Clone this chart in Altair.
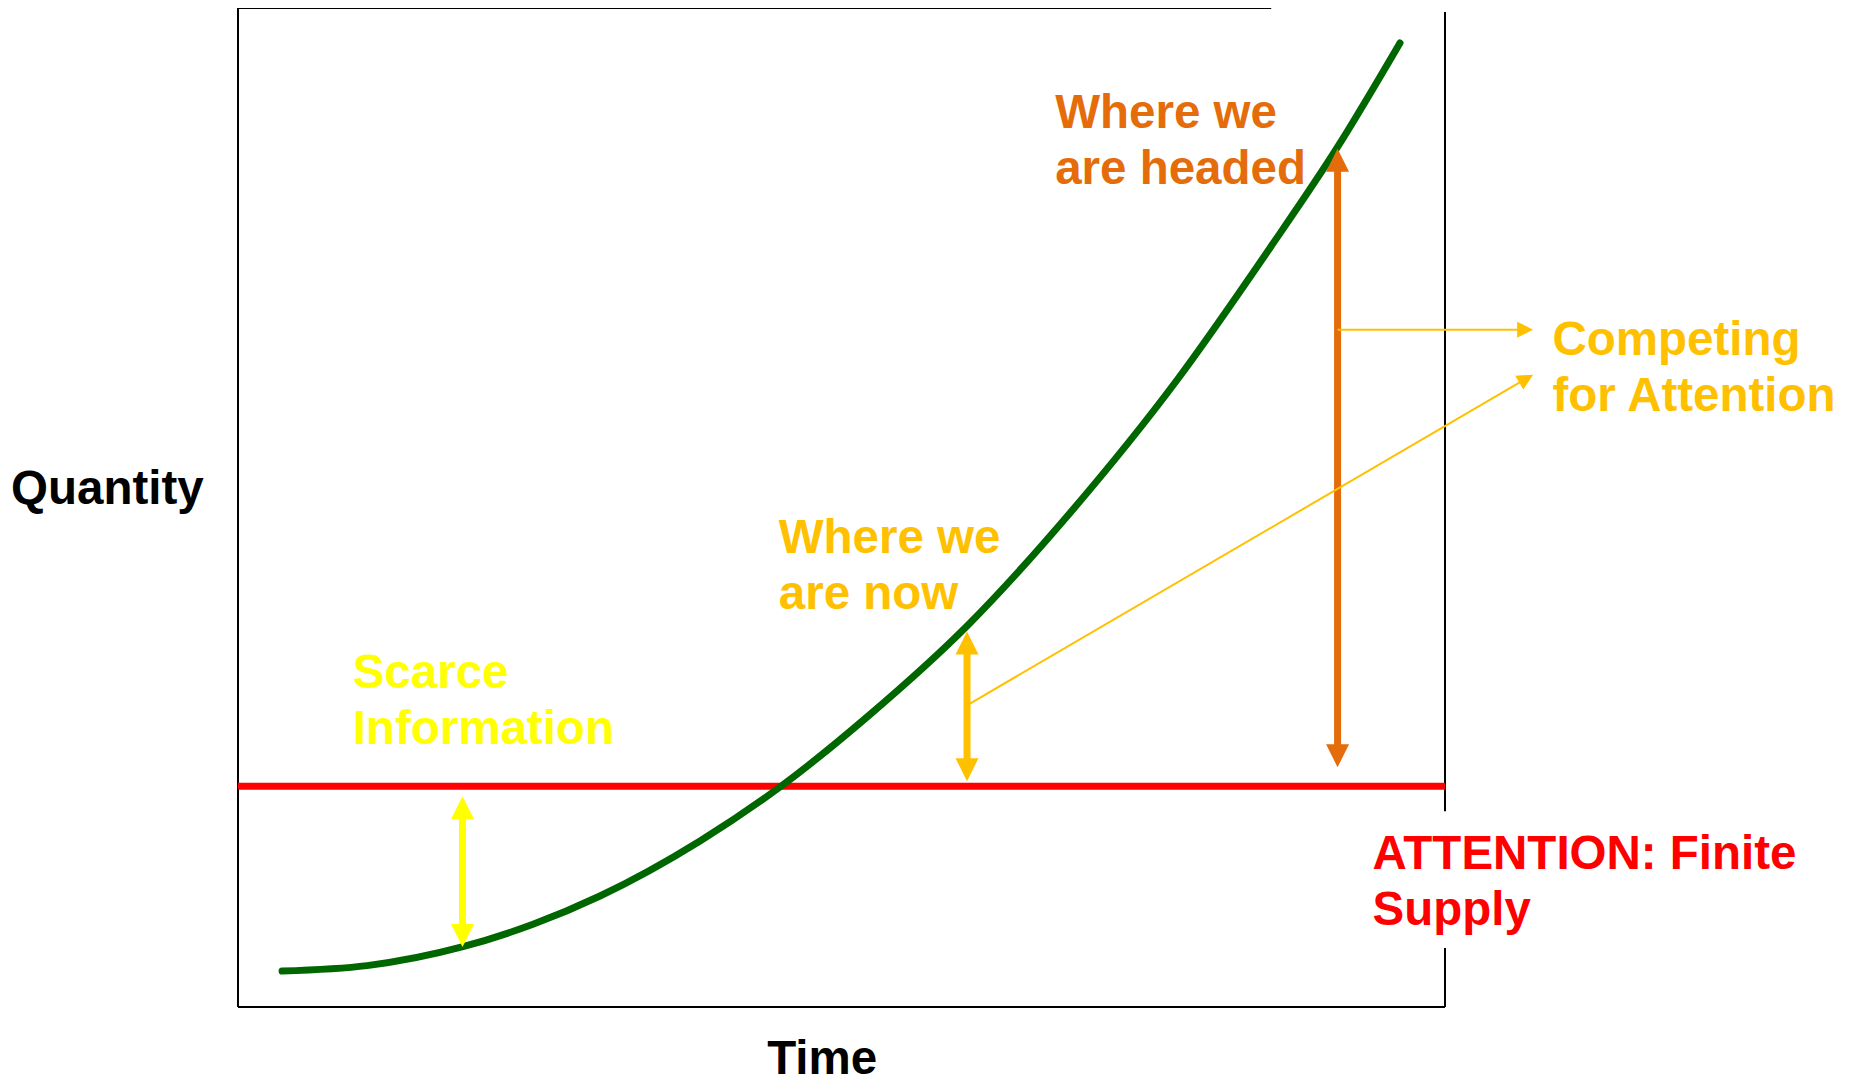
import math
import altair as alt
import pandas as pd

# ---------------- data (chart units: Time 0-100 across the frame, Quantity 0-100 up the frame)
curve_time = [3.65, 10.69, 18.56, 24.44, 29.99, 38.28, 45.07, 52.36, 60.40, 68.93, 77.80, 85.50, 91.05, 96.27]
curve_quantity = [3.60, 4.14, 6.01, 8.28, 11.11, 16.62, 22.17, 29.28, 38.14, 49.45, 62.76, 75.98, 85.99, 96.50]

attention_supply = 22.1

gap_names = ["Scarce Information", "Where we are now", "Where we are headed"]
gap_time = [18.6, 60.4, 91.1]
gap_low = [6.0, 22.6, 24.0]
gap_high = [21.1, 37.6, 85.9]

pointer_from_time = [91.1, 60.4]
pointer_from_qty = [67.8, 30.2]
pointer_to_time = [107.3, 107.3]
pointer_to_qty = [67.8, 63.3]

label_texts = ["Where we\nare headed", "Scarce\nInformation", "Where we\nare now",
               "Competing\nfor Attention", "ATTENTION: Finite\nSupply"]
label_time = [67.7, 9.5, 44.8, 108.9, 94.0]
label_qty = [88.0, 31.9, 45.4, 65.3, 13.8]

axis_titles = ["Quantity", "Time"]
axis_title_time = [-18.8, 48.4]
axis_title_qty = [50.4, -6.7]

# frame of the plot (top edge and right edge are partly hidden by text boxes)
frame_x = [0, 0, 0, 100, 100]
frame_x2 = [85.6, 0, 100, 100, 100]
frame_y = [100, 0, 0, 19.6, 0]
frame_y2 = [100, 100, 0, 99.6, 5.9]

# ---------------- styles
W, H = 1207, 999
GREEN = "#006600"
RED = "#FF0000"
YELLOW = "#FFFF00"
GOLD = "#FFC000"
ORANGE = "#E46C0A"
gap_colors = [YELLOW, GOLD, ORANGE]
label_colors = [ORANGE, YELLOW, GOLD, GOLD, RED]
FONT = "Liberation Sans"
FSIZE = 47.5

px_x = W / 100.0
px_y = H / 100.0

XS = alt.Scale(domain=[0, 100], nice=False, zero=False)
YS = alt.Scale(domain=[0, 100], nice=False, zero=False)


def X(f):
    return alt.X(f, type="quantitative", scale=XS, axis=None)


def Y(f):
    return alt.Y(f, type="quantitative", scale=YS, axis=None)


# frame
frame_df = pd.DataFrame({"x": frame_x, "x2": frame_x2, "y": frame_y, "y2": frame_y2})
frame = alt.Chart(frame_df).mark_rule(color="#000000", strokeWidth=2).encode(
    x=X("x"), x2="x2", y=Y("y"), y2="y2")

# attention supply line
red_df = pd.DataFrame({"x": [0], "x2": [100], "y": [attention_supply]})
red = alt.Chart(red_df).mark_rule(color=RED, strokeWidth=7).encode(
    x=X("x"), x2="x2", y=Y("y"))

# information curve
curve_df = pd.DataFrame({"time": curve_time, "quantity": curve_quantity})
curve = alt.Chart(curve_df).mark_line(color=GREEN, strokeWidth=7, interpolate="monotone",
                                      strokeCap="round").encode(
    x=X("time"), y=Y("quantity"), order="time:Q")

# double arrows
HEAD = 23.0
head_d = (HEAD - 3) / px_y
gap_df = pd.DataFrame({"name": gap_names, "x": gap_time,
                       "lo": [v + head_d for v in gap_low],
                       "hi": [v - head_d for v in gap_high],
                       "tip_lo": gap_low, "tip_hi": gap_high, "color": gap_colors})
shafts = alt.Chart(gap_df).mark_rule(strokeWidth=7).encode(
    x=X("x"), y=Y("lo"), y2="hi", color=alt.Color("color:N", scale=None))
heads_up = alt.Chart(gap_df).mark_point(shape="M0,0L1,2L-1,2Z", filled=True, opacity=1,
                                        size=HEAD * HEAD, strokeWidth=0).encode(
    x=X("x"), y=Y("tip_hi"), color=alt.Color("color:N", scale=None))
heads_down = alt.Chart(gap_df).mark_point(shape="M0,0L1,-2L-1,-2Z", filled=True, opacity=1,
                                          size=HEAD * HEAD, strokeWidth=0).encode(
    x=X("x"), y=Y("tip_lo"), color=alt.Color("color:N", scale=None))

# pointer arrows to "Competing for Attention"
PHEAD = 16.0
rows = []
for x1, y1, x2, y2 in zip(pointer_from_time, pointer_from_qty, pointer_to_time, pointer_to_qty):
    dxp = (x2 - x1) * px_x
    dyp = (y2 - y1) * px_y
    L = math.hypot(dxp, dyp)
    ux, uy = dxp / L, dyp / L
    ex = x2 - ux * (PHEAD * 0.6) / px_x
    ey = y2 - uy * (PHEAD * 0.6) / px_y
    ang = math.degrees(math.atan2(-dyp, dxp)) % 360
    rows.append({"x1": x1, "y1": y1, "ex": ex, "ey": ey, "tx": x2, "ty": y2, "angle": ang})
ptr_df = pd.DataFrame(rows)
ptr_lines = alt.Chart(ptr_df).mark_rule(color=GOLD, strokeWidth=2).encode(
    x=X("x1"), y=Y("y1"), x2="ex", y2="ey")
ptr_heads = alt.Chart(ptr_df).mark_point(shape="M0,0L-2,-1L-2,1Z", filled=True, opacity=1,
                                         size=PHEAD * PHEAD, strokeWidth=0, color=GOLD).encode(
    x=X("tx"), y=Y("ty"), angle=alt.Angle("angle:Q", scale=None))

# labels
lab_df = pd.DataFrame({"text": label_texts, "x": label_time, "y": label_qty, "color": label_colors})
labels = alt.Chart(lab_df).mark_text(align="left", baseline="alphabetic", font=FONT,
                                     fontWeight="bold", fontSize=FSIZE, lineHeight=56,
                                     lineBreak="\n").encode(
    x=X("x"), y=Y("y"), text="text:N", color=alt.Color("color:N", scale=None))

qty_df = pd.DataFrame({"text": [axis_titles[0]], "x": [axis_title_time[0]], "y": [axis_title_qty[0]]})
qty_title = alt.Chart(qty_df).mark_text(align="left", baseline="alphabetic", font=FONT,
                                        fontWeight="bold", fontSize=FSIZE, color="#000000").encode(
    x=X("x"), y=Y("y"), text="text:N")
time_df = pd.DataFrame({"text": [axis_titles[1]], "x": [axis_title_time[1]], "y": [axis_title_qty[1]]})
time_title = alt.Chart(time_df).mark_text(align="center", baseline="alphabetic", font=FONT,
                                          fontWeight="bold", fontSize=FSIZE, color="#000000").encode(
    x=X("x"), y=Y("y"), text="text:N")

chart = alt.layer(
    frame, red, curve, shafts, heads_up, heads_down, ptr_lines, ptr_heads,
    labels, qty_title, time_title
).properties(
    width=W, height=H,
    padding={"left": 230, "top": 0, "right": 403, "bottom": 68},
    autosize=alt.AutoSizeParams(type="none"),
    background="#FFFFFF",
).configure_view(strokeWidth=0)

chart.save("out.html", embed_options={"renderer": "svg", "actions": False})
